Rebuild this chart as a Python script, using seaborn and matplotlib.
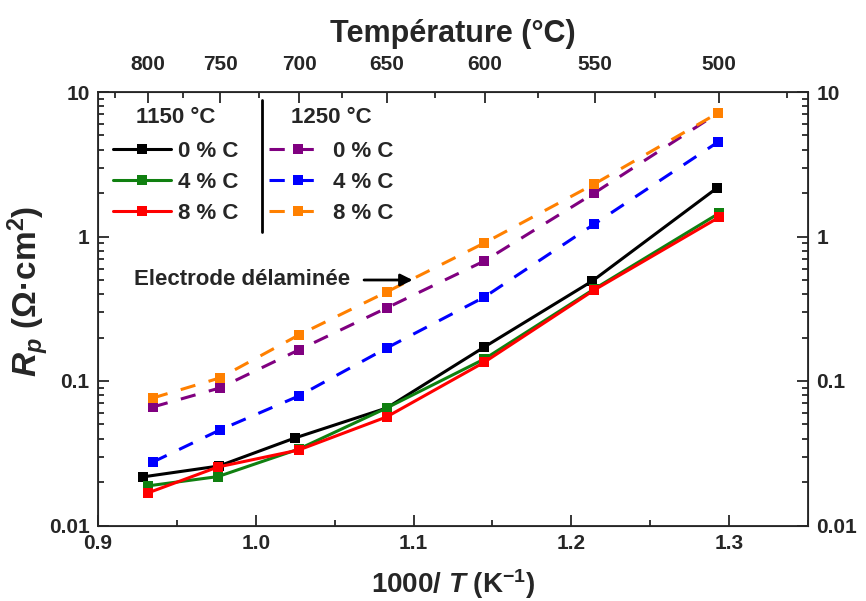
import matplotlib
matplotlib.use("Agg")
import matplotlib.pyplot as plt
from matplotlib.lines import Line2D
from matplotlib.ticker import LogLocator, FuncFormatter, MultipleLocator, NullFormatter
import seaborn as sns
import pandas as pd

sns.set_style("ticks")
plt.rcParams['font.family'] = ['Liberation Sans', 'DejaVu Sans']
plt.rcParams['font.weight'] = 'bold'
plt.rcParams['axes.labelweight'] = 'bold'
plt.rcParams['mathtext.fontset'] = 'custom'
plt.rcParams['mathtext.rm'] = 'Liberation Sans:bold'
plt.rcParams['mathtext.bf'] = 'Liberation Sans:bold'
plt.rcParams['mathtext.it'] = 'Liberation Sans:italic:bold'

# 1000/T positions
x_1150 = [0.9285, 0.9766, 1.0247, 1.0829, 1.1449, 1.2133, 1.2924]
x_1150_g = [0.9316, 0.9760, 1.0272, 1.0829, 1.1449, 1.2146, 1.2937]
x_1250 = [0.9348, 0.9772, 1.0272, 1.0829, 1.1449, 1.2146, 1.2930]

# Rp values (Ohm.cm2)
rp_1150_0 = [0.0217, 0.0258, 0.0403, 0.0650, 0.172, 0.492, 2.17]
rp_1150_4 = [0.0188, 0.0218, 0.0338, 0.0650, 0.142, 0.434, 1.45]
rp_1150_8 = [0.0168, 0.0254, 0.0333, 0.0564, 0.135, 0.427, 1.36]
rp_1250_0 = [0.0661, 0.0895, 0.164, 0.320, 0.677, 2.00, 7.16]
rp_1250_4 = [0.0275, 0.0458, 0.0787, 0.169, 0.381, 1.22, 4.51]
rp_1250_8 = [0.0763, 0.105, 0.208, 0.413, 0.902, 2.31, 7.16]

labels = ['0 % C', '4 % C', '8 % C']
colors_1150 = ['black', '#108010', '#ff0000']
colors_1250 = ['#800080', '#0000ff', '#ff8000']

top_temps = [800, 750, 700, 650, 600, 550, 500]
top_minor = [825, 775, 725, 675, 625, 575, 525, 475]

LW = 2.2
MS = 7

fig = plt.figure(figsize=(8.66, 6.01), dpi=100)
ax = fig.add_axes([98/866, 1-525.5/601, 710/866, 433.5/601])

series = [
    (x_1150, rp_1150_0, colors_1150[0], False),
    (x_1150_g, rp_1150_4, colors_1150[1], False),
    (x_1150_g, rp_1150_8, colors_1150[2], False),
    (x_1250, rp_1250_0, colors_1250[0], True),
    (x_1250, rp_1250_4, colors_1250[1], True),
    (x_1250, rp_1250_8, colors_1250[2], True),
]
for xs, ys, c, dashed in series:
    df = pd.DataFrame({'x': xs, 'y': ys})
    sns.lineplot(data=df, x='x', y='y', ax=ax, color=c, marker='s',
                 markersize=MS, markeredgewidth=0, lw=LW, sort=False)
    if dashed:
        ax.lines[-1].set_dashes([5, 4.5])

ax.set_yscale('log')
ax.set_xlim(0.9, 1.35)
ax.set_ylim(0.01, 10)
ax.xaxis.set_major_locator(MultipleLocator(0.1))
ax.xaxis.set_minor_locator(MultipleLocator(0.05))
ax.xaxis.set_major_formatter(FuncFormatter(lambda v, p: f'{v:.1f}'))
ax.yaxis.set_major_locator(LogLocator(base=10))
ax.yaxis.set_minor_locator(LogLocator(base=10, subs=range(2, 10)))
ax.yaxis.set_major_formatter(FuncFormatter(lambda v, p: f'{v:g}'))
ax.yaxis.set_minor_formatter(NullFormatter())
ax.tick_params(which='both', direction='in', right=True, labelright=True,
               top=False, labelsize=15, width=1.3, pad=6)
ax.tick_params(which='major', length=8)
ax.tick_params(which='minor', length=4)
for s in ax.spines.values():
    s.set_linewidth(1.3)

ax.set_xlabel(r'1000/ $T$ (K$^{-1}$)', fontsize=20, labelpad=10)
ax.set_ylabel(r'$R_p$ (Ω·cm$^2$)', fontsize=24)
ax.yaxis.set_label_coords(-0.066, 0.54)

# top temperature axis
ax2 = ax.twiny()
ax2.set_xlim(ax.get_xlim())
ax2.set_xticks([1000/(t+273.15) for t in top_temps])
ax2.set_xticklabels([str(t) for t in top_temps])
ax2.set_xticks([1000/(t+273.15) for t in top_minor], minor=True)
ax2.tick_params(which='both', direction='in', labelsize=15, width=1.3, pad=13)
ax2.tick_params(which='major', length=8)
ax2.tick_params(which='minor', length=4)
ax2.set_xlabel('Température (°C)', fontsize=22, labelpad=9)

# legends
h1 = [Line2D([], [], color=c, marker='s', markersize=MS, markeredgewidth=0, lw=LW)
      for c in colors_1150]
h2 = []
for c in colors_1250:
    ln = Line2D([], [], color=c, marker='s', markersize=MS, markeredgewidth=0, lw=LW)
    ln.set_dashes([5, 4.5])
    h2.append(ln)
leg_kw = dict(frameon=False, fontsize=16, title_fontsize=16, handlelength=2.6,
              handletextpad=0.3, labelspacing=0.45, borderpad=0, loc='upper left')
leg1 = ax.legend(h1, labels, title='1150 °C', bbox_to_anchor=(0.006, 0.99), **leg_kw)
leg1.get_title().set_fontweight('bold')
leg1._legend_box.sep = 9
ax.add_artist(leg1)
leg2 = ax.legend(h2, labels, title='1250 °C', bbox_to_anchor=(0.225, 0.99), **leg_kw)
leg2.get_title().set_fontweight('bold')
leg2._legend_box.sep = 9
ax.plot([0.231, 0.231], [0.677, 0.982], color='black', lw=2, transform=ax.transAxes)

ax.annotate('Electrode délaminée', xy=(1.0994, 0.5), xytext=(1.0595, 0.5),
            fontsize=16, ha='right', va='center',
            arrowprops=dict(arrowstyle='-|>', color='black', lw=2,
                            mutation_scale=18, shrinkA=8, shrinkB=0))

fig.savefig('out.png', dpi=100)
